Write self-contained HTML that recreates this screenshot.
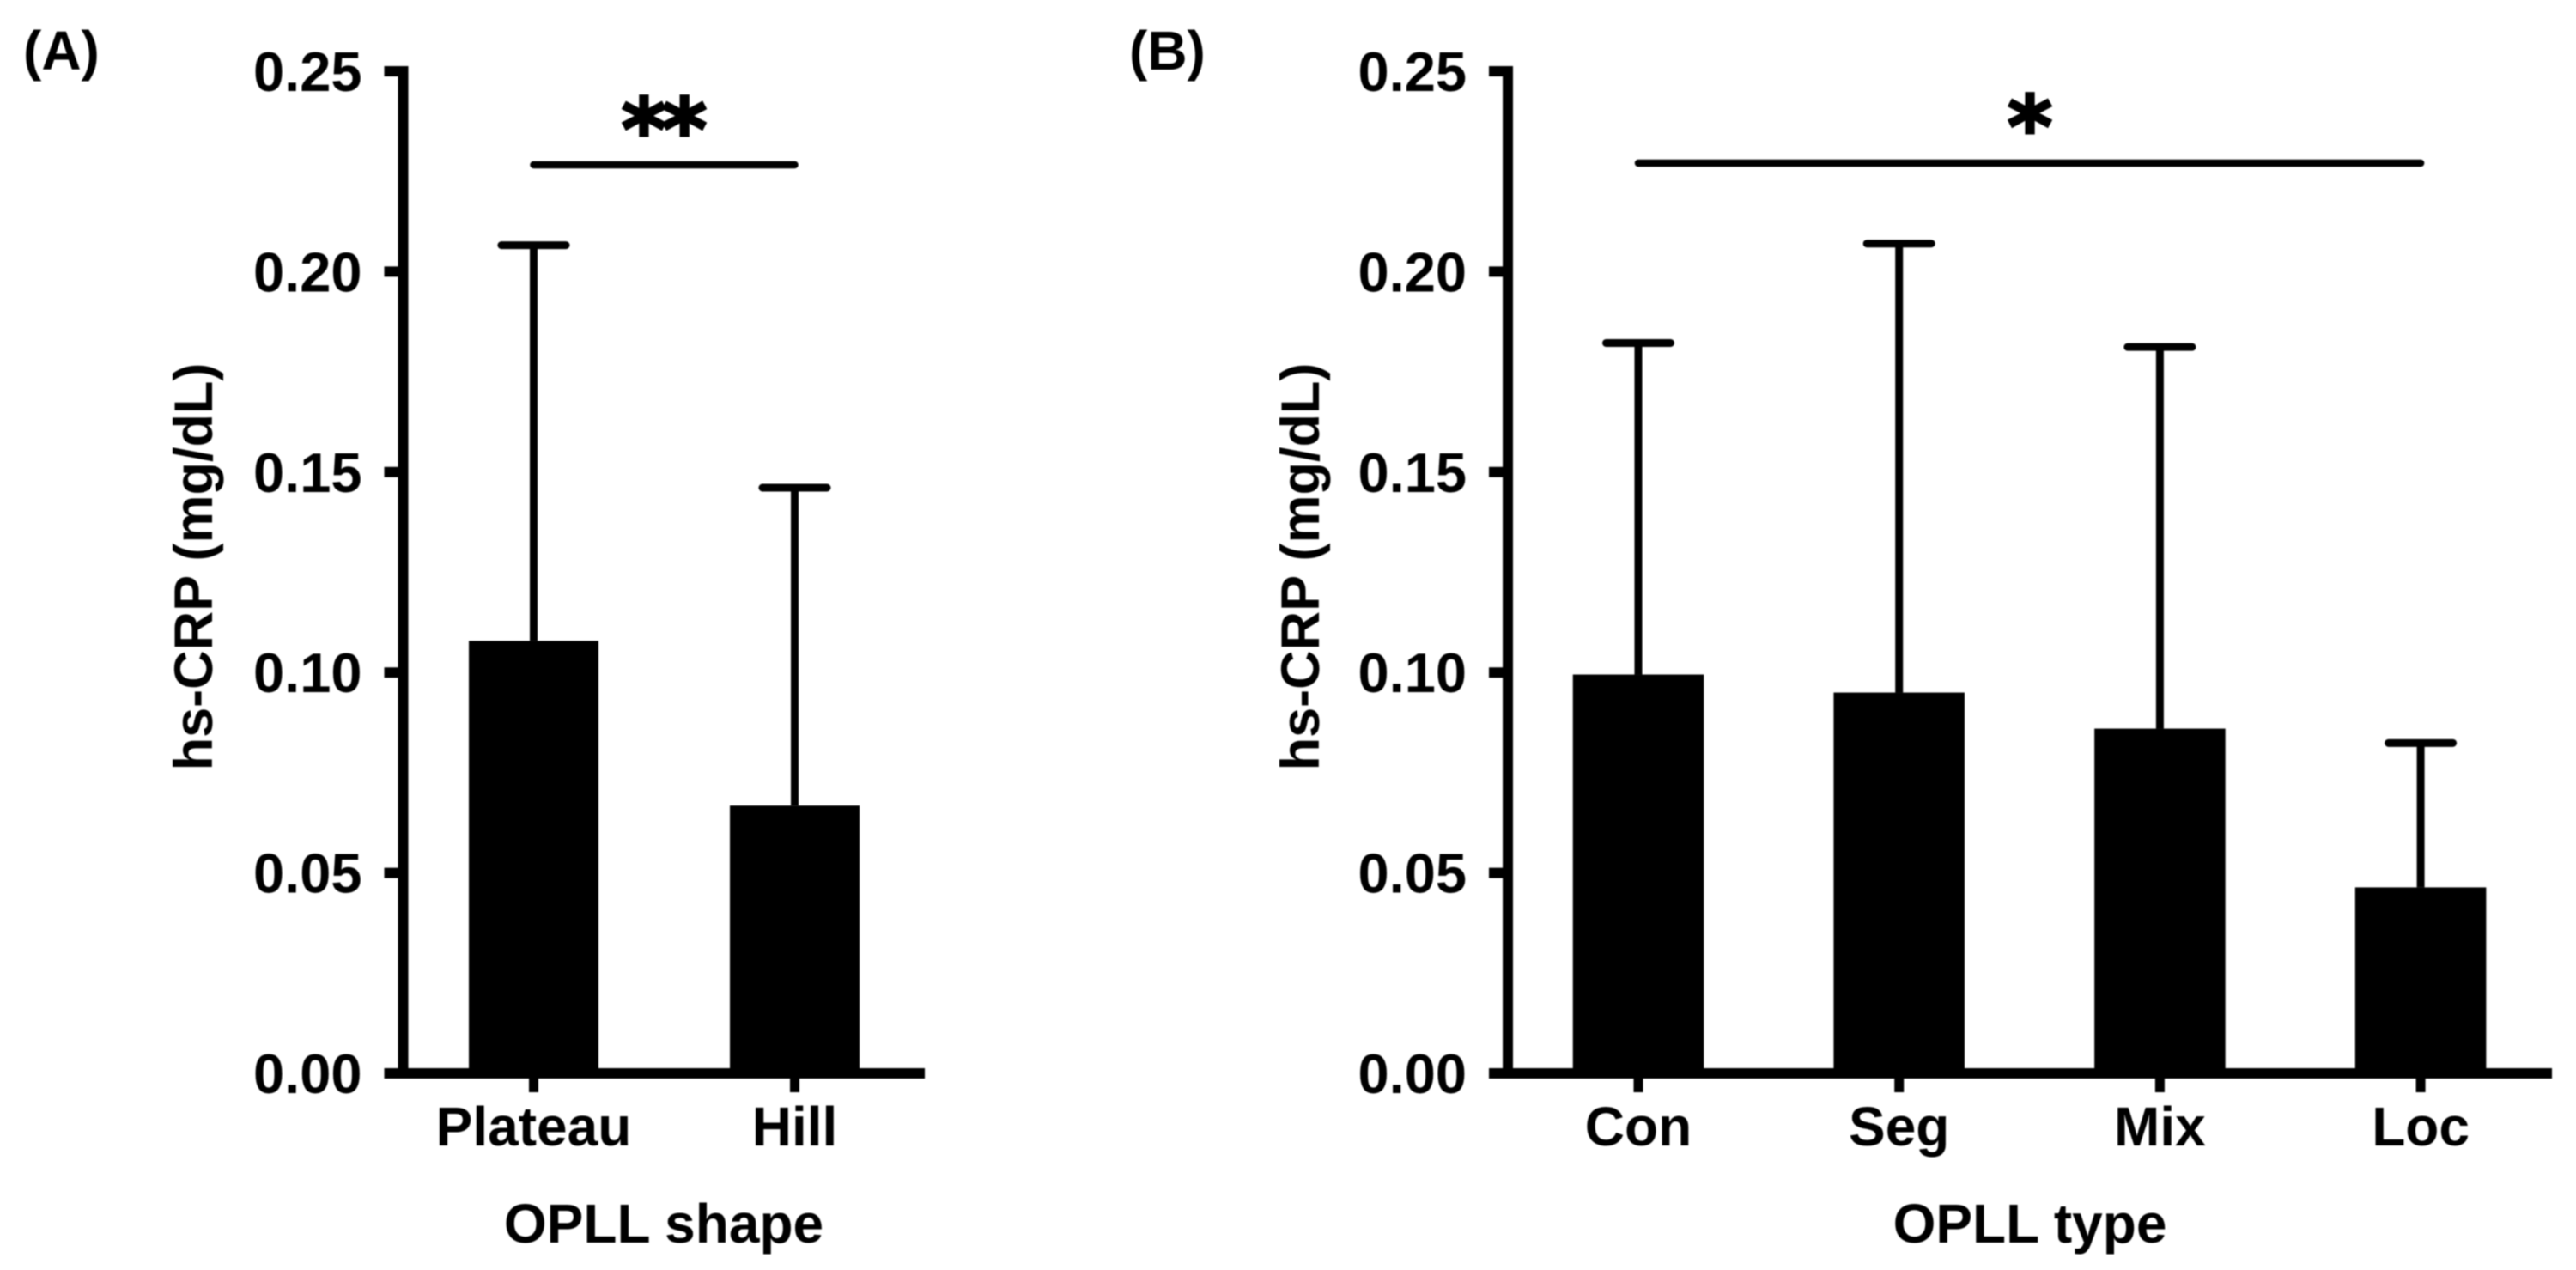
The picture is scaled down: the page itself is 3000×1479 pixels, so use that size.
<!DOCTYPE html>
<html lang="en">
<head>
<meta charset="utf-8">
<title>hs-CRP by OPLL shape and type</title>
<style>
html,body{margin:0;padding:0;background:#fff;width:3000px;height:1479px;overflow:hidden}
svg{display:block;filter:blur(0.7px)}
text{font-family:"Liberation Sans",Arial,sans-serif;font-weight:700;fill:#000}
text.star{font-family:"DejaVu Sans",sans-serif;stroke:#000;stroke-width:3px}
</style>
</head>
<body>
<svg id="figure" xmlns="http://www.w3.org/2000/svg" width="3000" height="1479" viewBox="0 0 3000 1479"></svg>
<script>
const yTickValues = [0, 0.05, 0.10, 0.15, 0.20, 0.25];
const yTickLabels = ["0.00", "0.05", "0.10", "0.15", "0.20", "0.25"];
const shapeCategories = ["Plateau", "Hill"];
const shapeMeans = [0.1079, 0.0668];
const shapeUpper = [0.2066, 0.1461];
const typeCategories = ["Con", "Seg", "Mix", "Loc"];
const typeMeans = [0.0995, 0.0950, 0.0860, 0.0464];
const typeUpper = [0.1822, 0.2070, 0.1812, 0.0824];

const svgNS = "http://www.w3.org/2000/svg";
const figure = document.getElementById("figure");
const yBase = 1250;
const yTop = 83;
const yMax = 0.25;
const y = v => yBase - (v / yMax) * (yBase - yTop);

function add(parent, tag, attrs, content) {
  const el = document.createElementNS(svgNS, tag);
  Object.keys(attrs).forEach(k => el.setAttribute(k, attrs[k]));
  if (content !== undefined) el.textContent = content;
  parent.appendChild(el);
  return el;
}

function drawPanel(p) {
  const x = i => p.firstCenter + i * p.step;
  const g = add(figure, "g", {});
  
  

  const letter = add(g, "text", {x: p.letterX, y: 81, "font-size": 64}, p.letter);
  
  

  p.categories.forEach((cat, i) => {
    const bar = add(g, "rect", {
      x: x(i) - p.barWidth / 2, y: y(p.means[i]),
      width: p.barWidth, height: yBase - y(p.means[i]), fill: "#000"
    });
    
    

    const stem = add(g, "line", {
      x1: x(i), x2: x(i), y1: y(p.means[i]), y2: y(p.upper[i]),
      stroke: "#000", "stroke-width": 9
    });
    
    

    const cap = add(g, "line", {
      x1: x(i) - 37.5, x2: x(i) + 37.5, y1: y(p.upper[i]), y2: y(p.upper[i]),
      stroke: "#000", "stroke-width": 9, "stroke-linecap": "round"
    });
    
    

    const xt = add(g, "line", {
      x1: x(i), x2: x(i), y1: yBase, y2: 1272,
      stroke: "#000", "stroke-width": 11
    });
    
    

    const lab = add(g, "text", {
      x: x(i), y: 1334, "text-anchor": "middle", "font-size": 64
    }, cat);
    
    
  });

  const yAxis = add(g, "line", {
    x1: p.axisX, x2: p.axisX, y1: yTop - 6, y2: yBase + 6,
    stroke: "#000", "stroke-width": 12
  });
  
  

  const xAxis = add(g, "line", {
    x1: p.axisX - 22, x2: p.axisEnd, y1: yBase, y2: yBase,
    stroke: "#000", "stroke-width": 12
  });
  
  

  yTickValues.forEach((v, i) => {
    const t = add(g, "line", {
      x1: p.axisX - 22, x2: p.axisX, y1: y(v), y2: y(v),
      stroke: "#000", "stroke-width": 12
    });
    
    

    const l = add(g, "text", {
      x: p.axisX - 48, y: y(v) + 23, "text-anchor": "end", "font-size": 65
    }, yTickLabels[i]);
    
    
  });

  const yTitle = add(g, "text", {
    transform: "translate(" + p.yTitleX + " 660) rotate(-90)",
    "text-anchor": "middle", "font-size": 63
  }, "hs-CRP (mg/dL)");
  
  

  const xTitle = add(g, "text", {
    x: p.xTitleX, y: 1447, "text-anchor": "middle", "font-size": 64
  }, p.xTitle);
  
  

  const sigLine = add(g, "line", {
    x1: x(0), x2: x(p.categories.length - 1), y1: p.sigY, y2: p.sigY,
    stroke: "#000", "stroke-width": 8.5, "stroke-linecap": "round"
  });
  
  

  const stars = add(g, "text", {
    class: "star", x: p.starX, y: p.starY, "text-anchor": "middle",
    "font-size": 100, "letter-spacing": p.stars.length > 1 ? -5 : 0
  }, p.stars);
  
  
}

drawPanel({
  key: "shape", letter: "(A)", letterX: 27,
  categories: shapeCategories, means: shapeMeans, upper: shapeUpper,
  firstCenter: 621.5, step: 304, barWidth: 151,
  axisX: 469.5, axisEnd: 1077, yTitleX: 247, xTitle: "OPLL shape", xTitleX: 773,
  stars: "**", starX: 771, starY: 186, sigY: 192
});
drawPanel({
  key: "type", letter: "(B)", letterX: 1315,
  categories: typeCategories, means: typeMeans, upper: typeUpper,
  firstCenter: 1908, step: 303.7, barWidth: 152.5,
  axisX: 1756, axisEnd: 2972, yTitleX: 1536, xTitle: "OPLL type", xTitleX: 2364,
  stars: "*", starX: 2364, starY: 183, sigY: 190
});
</script>
</body>
</html>
